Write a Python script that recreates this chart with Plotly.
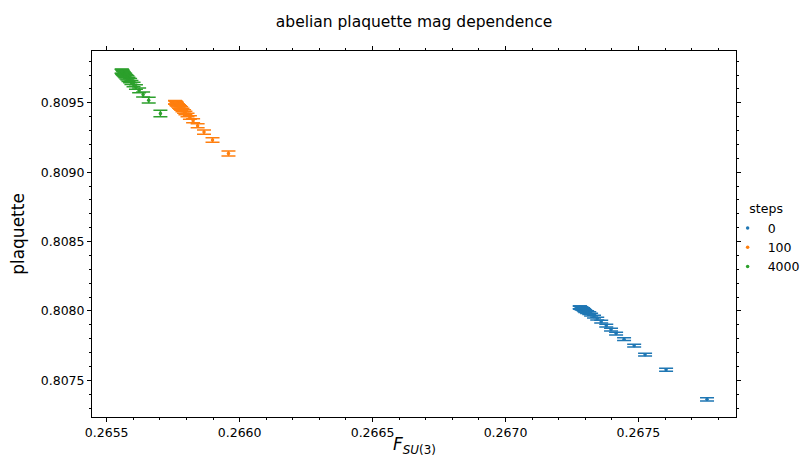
import plotly.graph_objects as go

# ---- data ----
steps_labels = ["0", "100", "4000"]

F_0 = [0.267758, 0.267604, 0.267525, 0.267484, 0.267446, 0.267416, 0.267397, 0.267379,
       0.267360, 0.267345, 0.267333, 0.267322, 0.267315, 0.267307, 0.267300, 0.267296,
       0.267292, 0.267288, 0.267284, 0.267281, 0.267280, 0.267279]
P_0 = [0.807363, 0.807577, 0.807685, 0.807750, 0.807797, 0.807837, 0.807866, 0.807894,
       0.807923, 0.807945, 0.807959, 0.807974, 0.807985, 0.807992, 0.807999, 0.808006,
       0.808013, 0.808017, 0.808021, 0.808024, 0.808025, 0.808026]
E_0 = [0.000011, 0.000011, 0.000010, 0.000010, 0.000010, 0.000010, 0.000010, 0.000010,
       0.000010, 0.000010, 0.000010, 0.000010, 0.000010, 0.000010, 0.000010, 0.000010,
       0.000010, 0.000010, 0.000010, 0.000010, 0.000010, 0.000010]

F_100 = [0.265958, 0.265898, 0.265866, 0.265842, 0.265825, 0.265813, 0.265804, 0.265796,
         0.265791, 0.265785, 0.265780, 0.265776, 0.265772, 0.265768, 0.265764, 0.265763,
         0.265761, 0.265759, 0.265757, 0.265757]
P_100 = [0.809134, 0.809232, 0.809289, 0.809334, 0.809370, 0.809394, 0.809412, 0.809426,
         0.809437, 0.809448, 0.809459, 0.809466, 0.809473, 0.809481, 0.809488, 0.809493,
         0.809497, 0.809501, 0.809502, 0.809504]
E_100 = [0.000018, 0.000016, 0.000015, 0.000014, 0.000014, 0.000013, 0.000013, 0.000013,
         0.000013, 0.000012, 0.000012, 0.000012, 0.000012, 0.000012, 0.000012, 0.000012,
         0.000012, 0.000012, 0.000012, 0.000012]

F_4000 = [0.265702, 0.265658, 0.265637, 0.265622, 0.265610, 0.265601, 0.265593, 0.265588,
          0.265582, 0.265578, 0.265574, 0.265570, 0.265567, 0.265564, 0.265562, 0.265560,
          0.265559, 0.265558, 0.265557, 0.265556]
P_4000 = [0.809423, 0.809519, 0.809560, 0.809589, 0.809614, 0.809632, 0.809646, 0.809659,
          0.809669, 0.809679, 0.809687, 0.809695, 0.809702, 0.809708, 0.809713, 0.809717,
          0.809721, 0.809724, 0.809726, 0.809727]
E_4000 = [0.000023, 0.000020, 0.000018, 0.000017, 0.000016, 0.000016, 0.000015, 0.000015,
          0.000015, 0.000015, 0.000015, 0.000015, 0.000015, 0.000015, 0.000015, 0.000015,
          0.000015, 0.000015, 0.000015, 0.000015]

colors = ["#1f77b4", "#ff7f0e", "#2ca02c"]
series = [(F_0, P_0, E_0), (F_100, P_100, E_100), (F_4000, P_4000, E_4000)]

fig = go.Figure()
for (fx, py, ey), name, c in zip(series, steps_labels, colors):
    fig.add_trace(go.Scatter(
        x=fx, y=py, mode="markers", name=name,
        marker=dict(color=c, size=3.5),
        error_y=dict(type="data", array=ey, visible=True, color=c,
                     thickness=1.5, width=7),
    ))

font = "DejaVu Sans, sans-serif"
axis_common = dict(
    showline=True, linecolor="black", linewidth=1, mirror="allticks",
    ticks="outside", ticklen=4, tickwidth=1, tickcolor="black",
    showgrid=False, zeroline=False,
    tickfont=dict(family=font, size=12.5, color="black"),
    tickformat=".4f", dtick=0.0005,
    minor=dict(ticks="outside", ticklen=2, tickwidth=1, tickcolor="black",
               dtick=0.0001, showgrid=False),
)

fig.update_layout(
    width=809, height=455,
    margin=dict(l=84, r=81, t=43, b=46, autoexpand=False),
    paper_bgcolor="white", plot_bgcolor="white",
    title=dict(text="abelian plaquette mag dependence", x=0.5, xanchor="center",
               y=1 - 14 / 455, yanchor="middle", xref="paper",
               font=dict(family=font, size=15.5, color="black")),
    xaxis=dict(range=[0.2654447, 0.267867], tick0=0.2655, **axis_common),
    yaxis=dict(range=[0.807236, 0.809873], tick0=0.8075,
               title=dict(text="plaquette", font=dict(family=font, size=17, color="black"),
                          standoff=14),
               **axis_common),
    annotations=[dict(text="<i>F</i><sub><i>SU</i>(3)</sub>", xref="paper", yref="paper",
                      x=0.5, y=-(450 - 409) / 366, xanchor="center", yanchor="bottom",
                      showarrow=False, borderpad=0,
                      font=dict(family=font, size=17, color="black"))],
    legend=dict(title=dict(text="steps", side="top center",
                           font=dict(family=font, size=12.5, color="black")),
                font=dict(family=font, size=12.5, color="black"),
                itemwidth=30, tracegroupgap=0,
                x=0.987, xanchor="left", y=0.486, yanchor="middle",
                bgcolor="rgba(0,0,0,0)"),
    showlegend=True,
)

fig.write_html("out.html")
